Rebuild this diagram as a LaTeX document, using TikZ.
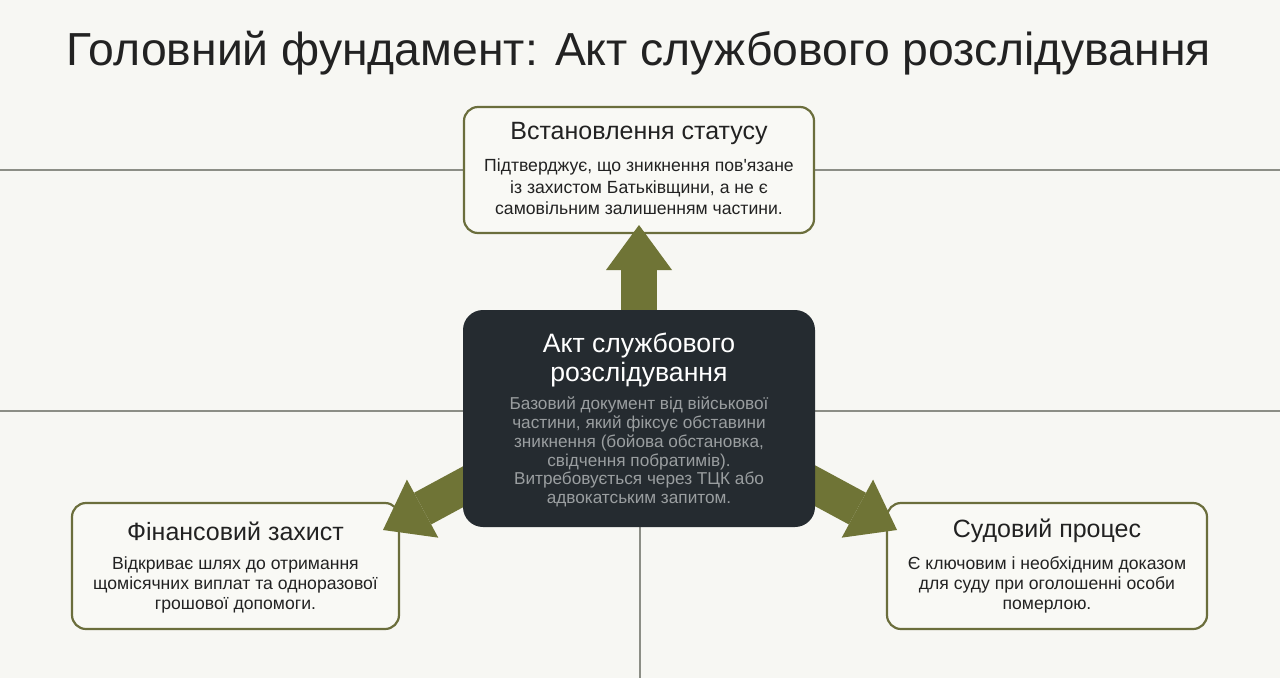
\documentclass[tikz,border=0pt]{standalone}
\usepackage{fontspec}
\setmainfont{Liberation Sans}
\usetikzlibrary{arrows.meta}
\definecolor{bg}{HTML}{F7F7F3}
\definecolor{boxfill}{HTML}{F9F9F5}
\definecolor{olivebd}{HTML}{6B6E3C}
\definecolor{olivearr}{HTML}{6F7436}
\definecolor{darkbox}{HTML}{252B30}
\definecolor{greytxt}{HTML}{9A9EA0}
\definecolor{txt}{HTML}{222222}
\definecolor{gridline}{HTML}{8C8E86}
\begin{document}
\begin{tikzpicture}[x=1pt,y=-1pt,
  outerbox/.style={draw=olivebd, line width=2.2pt, fill=boxfill, rounded corners=14pt, inner sep=0pt, minimum height=126pt},
  centerbox/.style={fill=darkbox, rounded corners=20pt, inner sep=0pt, minimum width=352pt, minimum height=217pt},
  fat/.style={line width=36pt, draw=olivearr, -{Triangle[width=66pt,length=45pt,line width=0pt]}},
  gline/.style={draw=gridline, line width=1.4pt},
  boxtitle/.style={text=txt, font=\fontsize{25}{30}\selectfont, align=center},
  boxbody/.style={text=txt, font=\fontsize{17.6}{20}\selectfont, align=center},
]
\fill[bg] (0,0) rectangle (1280,678);
\useasboundingbox (0,0) rectangle (1280,678);

% background lines
\coordinate (hl1a) at (0,170); \coordinate (hl1b) at (1280,170);
\coordinate (hl2a) at (0,411); \coordinate (hl2b) at (1280,411);
\coordinate (vla) at (640,500); \coordinate (vlb) at (640,678);
\draw[gline] (hl1a) -- (hl1b);
\draw[gline] (hl2a) -- (hl2b);
\draw[gline] (vla) -- (vlb);

% title
\node[text=txt, font=\fontsize{46.3}{54}\selectfont] (title) at (639,53) {Головний фундамент: Акт службового розслідування};

% outer boxes
\node[outerbox, minimum width=350pt] (top) at (639,170) {};
\node[outerbox, minimum width=327pt] (left) at (235.5,566) {};
\node[outerbox, minimum width=320pt] (right) at (1047,566) {};

% arrows
\coordinate (srcU) at (639,400);
\coordinate (tipU) at (639,225);
\coordinate (srcL) at (520,456);
\coordinate (tipL) at (383,530);
\coordinate (srcR) at (760,456);
\coordinate (tipR) at (897,530);
\draw[fat] (srcU) -- (tipU);
\draw[fat] (srcL) -- (tipL);
\draw[fat] (srcR) -- (tipR);

% center box
\node[centerbox] (ctr) at (639,418.5) {};

% texts
\node[boxtitle] (topT) at (639,133) {Встановлення статусу};
\node[boxbody, font=\fontsize{17.6}{21.5}\selectfont] (topB) at (639,187) {Підтверджує, що зникнення пов\textquotesingle язане\\із захистом Батьківщини, а не є\\самовільним залишенням частини.};

\node[boxtitle, text=white, font=\fontsize{26.6}{28.5}\selectfont] (ctrT) at (639,360) {Акт службового\\розслідування};
\node[boxbody, text=greytxt, font=\fontsize{17.2}{18.8}\selectfont] (ctrB) at (639,452) {Базовий документ від військової\\частини, який фіксує обставини\\зникнення (бойова обстановка,\\свідчення побратимів).\\Витребовується через ТЦК або\\адвокатським запитом.};

\node[boxtitle] (leftT) at (235.5,531) {Фінансовий захист};
\node[boxbody] (leftB) at (235.5,585) {Відкриває шлях до отримання\\щомісячних виплат та одноразової\\грошової допомоги.};

\node[boxtitle] (rightT) at (1047,531) {Судовий процес};
\node[boxbody] (rightB) at (1047,585) {Є ключовим і необхідним доказом\\для суду при оголошенні особи\\померлою.};
\end{tikzpicture}
\end{document}
